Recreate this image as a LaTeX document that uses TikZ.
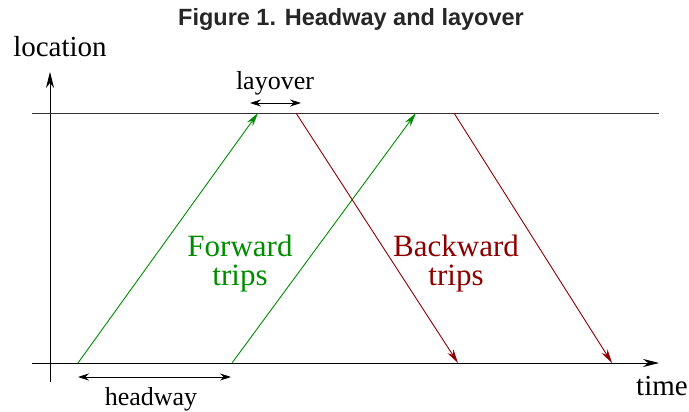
\documentclass[tikz,border=0pt]{standalone}
\usepackage{fontspec}
\setmainfont{Liberation Serif}
\newfontfamily\titlefont{Liberation Sans}
\usetikzlibrary{arrows.meta}
\definecolor{fwdgreen}{RGB}{0,140,0}
\definecolor{bwdred}{RGB}{140,0,0}
\begin{document}
\begin{tikzpicture}[x=1pt,y=-1pt]
  \tikzset{trip/.style={draw=#1,line width=0.9pt,-{Stealth[length=14pt,width=7pt]}},
    axis/.style={line width=0.8pt,-{Stealth[length=16pt,width=8pt]}},
    span/.style={line width=0.8pt,{Stealth[length=11pt,width=7pt]}-{Stealth[length=11pt,width=7pt]}},
    lbl/.style={font=\fontsize{26}{28}\selectfont,inner sep=0pt,anchor=base}}
  \useasboundingbox (0,0) rectangle (689,412);
  \node[font=\titlefont\bfseries\fontsize{23.5}{25}\selectfont,text=black!85,inner sep=0pt,anchor=base] (title) at (351,26) {Figure 1. Headway and layover};
  % axes
  \coordinate (origin) at (50,382);
  \coordinate (ytop) at (50,72);
  \coordinate (xleft) at (32,363);
  \coordinate (xright) at (659,363);
  \coordinate (topleft) at (32,113);
  \coordinate (topright) at (659,113);
  \draw[axis] (origin) -- (ytop);
  \draw[axis] (xleft) -- (xright);
  \draw[line width=0.8pt,black!80] (topleft) -- (topright);
  \node[lbl,font=\fontsize{29}{31}\selectfont] (location) at (60,57) {location};
  \node[lbl,font=\fontsize{29}{31}\selectfont] (time) at (662,395) {time};
  % trips
  \coordinate (f1) at (78,363);  \coordinate (f1end) at (258,113);
  \coordinate (f2) at (232,363); \coordinate (f2end) at (416,113);
  \coordinate (b1) at (296,113); \coordinate (b1end) at (458,363);
  \coordinate (b2) at (454,113); \coordinate (b2end) at (612,363);
  \draw[trip=fwdgreen] (f1) -- (f1end);
  \draw[trip=fwdgreen] (f2) -- (f2end);
  \draw[trip=bwdred] (b1) -- (b1end);
  \draw[trip=bwdred] (b2) -- (b2end);
  \node[align=center,text=fwdgreen,font=\fontsize{31}{29}\selectfont,inner sep=0pt,anchor=base] (fwd) at (240,285) {Forward\\trips};
  \node[align=center,text=bwdred,font=\fontsize{31}{29}\selectfont,inner sep=0pt,anchor=base] (bwd) at (456,285) {Backward\\trips};
  % layover and headway
  \coordinate (lay1) at (250,103); \coordinate (lay2) at (301,103);
  \draw[span] (lay1) -- (lay2);
  \node[lbl] (layover) at (275,90) {layover};
  \coordinate (head1) at (78,377); \coordinate (head2) at (231,377);
  \draw[span] (head1) -- (head2);
  \node[lbl] (headway) at (151,405) {headway};
\end{tikzpicture}
\end{document}
